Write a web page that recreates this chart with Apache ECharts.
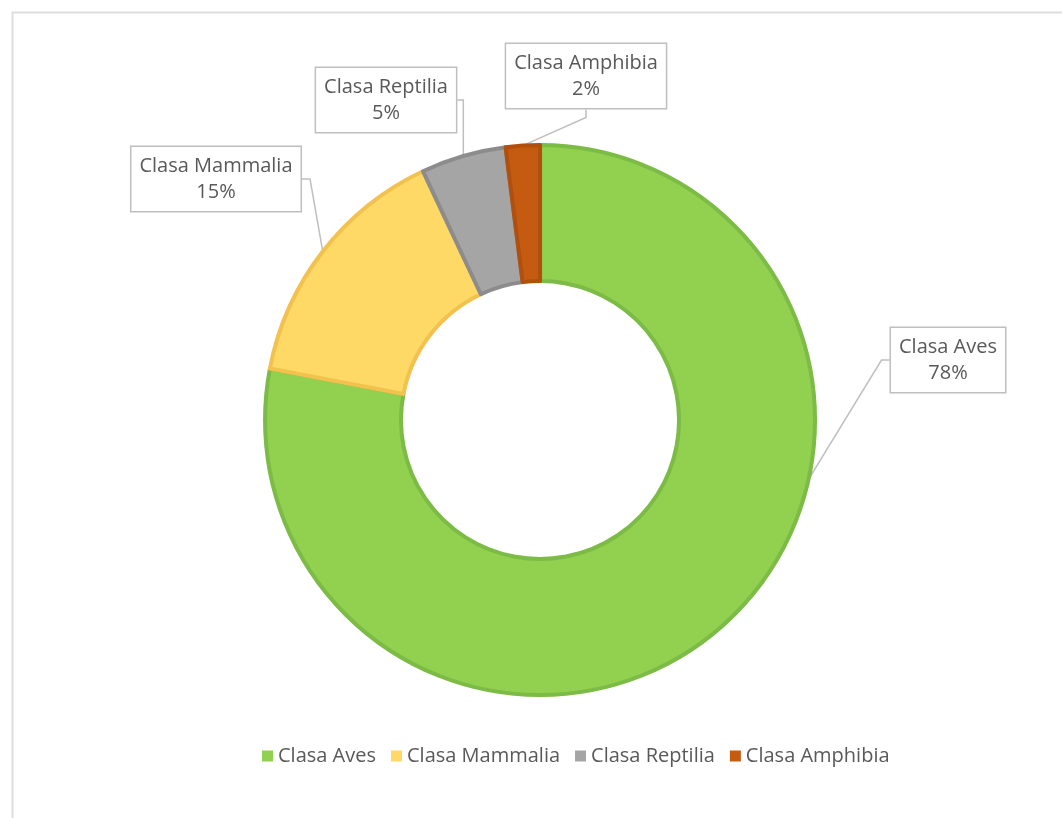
<!DOCTYPE html>
<html>
<head>
<meta charset="utf-8">
<script src="https://cdn.jsdelivr.net/npm/echarts@6/dist/echarts.min.js"></script>
<style>html,body{margin:0;padding:0;background:#fff}#c{width:1062px;height:818px}</style>
</head>
<body>
<div id="c"></div>
<script>
const categories = ['Clasa Aves', 'Clasa Mammalia', 'Clasa Reptilia', 'Clasa Amphibia'];
const values = [78, 15, 5, 2];
const colors = ['#92d050', '#ffd966', '#a5a5a5', '#c55a11'];
const borderColors = ['#7cbb45', '#f2c14e', '#8c8c8c', '#b04f0e'];
const labelPos = [[948, 360], [216, 179], [386, 100], [586, 76]];

const chart = echarts.init(document.getElementById('c'));
chart.setOption({
  animation: false,
  backgroundColor: '#fff',
  graphic: [{
    type: 'rect', left: 10, top: 10,
    shape: { width: 1070, height: 830 },
    style: { fill: 'none', stroke: '#dedede', lineWidth: 2 }
  }],
  legend: {
    top: 741, left: 257,
    itemWidth: 11, itemHeight: 11, itemGap: 15,
    icon: 'rect',
    itemStyle: { borderWidth: 0 },
    textStyle: { fontFamily: 'Open Sans', fontSize: 20, color: '#595959' },
    data: categories
  },
  series: [{
    type: 'pie',
    center: ['50.85%', '51.35%'],
    radius: [139, 275],
    startAngle: 90,
    clockwise: true,
    data: categories.map((n, i) => ({
      name: n, value: values[i],
      itemStyle: { color: colors[i], borderColor: borderColors[i], borderWidth: 4 }
    })),
    label: {
      show: true,
      formatter: p => p.name + '\n' + p.percent.toFixed(0) + '%',
      fontFamily: 'Open Sans', fontSize: 20, color: '#595959',
      lineHeight: 26, align: 'center',
      backgroundColor: '#fff', borderColor: '#bfbfbf', borderWidth: 1.5,
      padding: [6, 8]
    },
    labelLine: { show: true, length: 20, length2: 8, lineStyle: { color: '#bfbfbf', width: 1.5 } },
    labelLayout: function (p) {
      const pos = labelPos[p.dataIndex];
      return { x: pos[0], y: pos[1], align: 'center', verticalAlign: 'middle' };
    },
    emphasis: { disabled: true }
  }]
});
</script>
</body>
</html>
